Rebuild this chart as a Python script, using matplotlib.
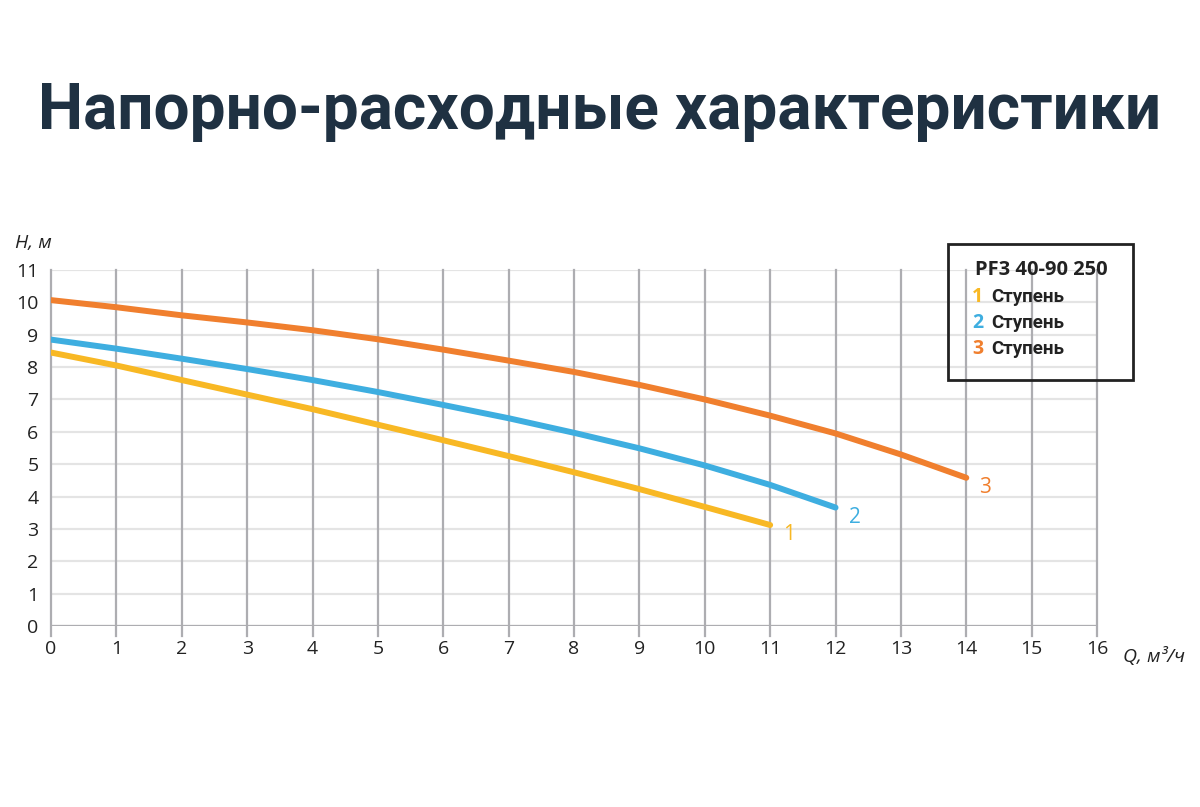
import matplotlib
matplotlib.use("Agg")
import matplotlib.pyplot as plt
from matplotlib.patches import Rectangle

# data
q1 = [0, 1, 2, 3, 4, 5, 6, 7, 8, 9, 10, 11]
h1 = [8.45, 8.05, 7.6, 7.15, 6.7, 6.22, 5.74, 5.25, 4.75, 4.23, 3.68, 3.12]
q2 = [0, 1, 2, 3, 4, 5, 6, 7, 8, 9, 10, 11, 12]
h2 = [8.85, 8.57, 8.26, 7.94, 7.6, 7.23, 6.83, 6.42, 5.97, 5.49, 4.96, 4.36, 3.66]
q3 = [0, 1, 2, 3, 4, 5, 6, 7, 8, 9, 10, 11, 12, 13, 14]
h3 = [10.07, 9.85, 9.6, 9.38, 9.14, 8.86, 8.54, 8.2, 7.85, 7.45, 7.0, 6.5, 5.95, 5.3, 4.58]

series = [
    ("1", q1, h1, "#f8b824"),
    ("2", q2, h2, "#3eaee0"),
    ("3", q3, h3, "#f07f2e"),
]
x_ticks = list(range(0, 17))
y_ticks = list(range(0, 12))

plt.rcParams["font.family"] = ["Open Sans", "DejaVu Sans"]
text_color = "#222222"

fig = plt.figure(figsize=(12, 8.07), dpi=100)
ax = fig.add_axes([0.0425, 0.2243, 0.8717, 0.4411])

# grid
for x in x_ticks:
    ax.plot([x, x], [-0.3, 11], color="#adadb1", lw=1.6, zorder=1, clip_on=False)
for y in y_ticks:
    ax.axhline(y, color="#e4e4e4", lw=1.6, zorder=0)
ax.axhline(0, color="#adadb1", lw=1.6, zorder=1)

for name, q, h, c in series:
    ax.plot(q, h, color=c, lw=4.3, solid_capstyle="round", zorder=3)
    ax.text(q[-1] + 0.2, h[-1] - 0.3, name, color=c, fontsize=15,
            ha="left", va="center")

ax.set_xlim(0, 16)
ax.set_ylim(0, 11)
ax.set_xticks(x_ticks)
ax.set_yticks(y_ticks)
ax.tick_params(length=0, labelsize=14, colors=text_color, pad=10)
ax.tick_params(axis="y", pad=9)
for s in ax.spines.values():
    s.set_visible(False)

ax.text(-0.55, 11.55, "H, м", fontsize=14, style="italic", color=text_color,
        ha="left", va="bottom")
ax.text(16.4, -0.95, "Q, м³/ч", fontsize=14, style="italic", color=text_color,
        ha="left", va="center")

# legend box
fig.patches.append(Rectangle((948 / 1200, 1 - 380 / 807), 185 / 1200, 136 / 807,
                             transform=fig.transFigure, fill=False,
                             edgecolor="#222222", lw=2))
fig.text(975 / 1200, 1 - 270 / 807, "PF3 40-90 250", fontsize=14.5,
         weight="bold", color=text_color, va="center")
for i, (name, q, h, c) in enumerate(series):
    yy = 1 - (297 + i * 26) / 807
    fig.text(972 / 1200, yy, name, fontsize=14, weight="bold", color=c, va="center")
    fig.text(991 / 1200, yy, "Ступень", fontsize=13.5, weight="bold",
             color=text_color, va="center", family=["Roboto", "DejaVu Sans"])

fig.text(0.5, 1 - 112 / 807, "Напорно-расходные характеристики", fontsize=46,
         weight="bold", color="#1f3142", ha="center", va="center",
         family=["Roboto", "DejaVu Sans"])

fig.savefig("out.png", dpi=100, facecolor="white")
